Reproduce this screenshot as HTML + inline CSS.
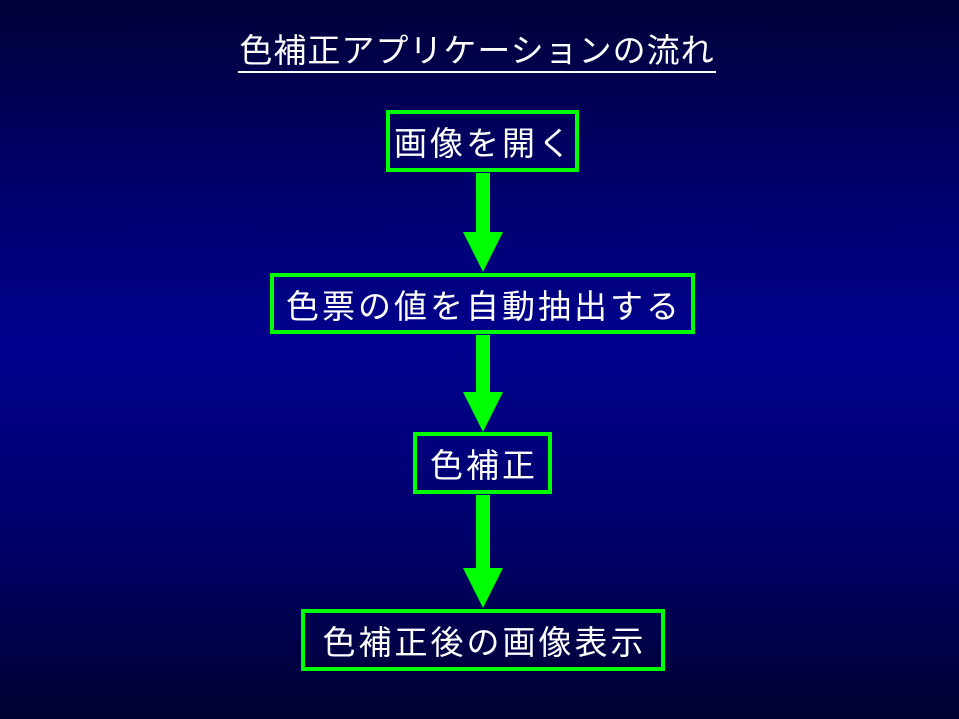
<!DOCTYPE html>
<html><head><meta charset="utf-8"><style>
html,body{margin:0;padding:0}
body{width:959px;height:719px;position:relative;overflow:hidden;
background:linear-gradient(to bottom,#000038 0%,#00006a 25%,#00008e 48%,#00006a 75%,#000030 100%);
font-family:"Liberation Sans","Noto Sans CJK JP",sans-serif;color:#fff}
.t{position:absolute;left:228px;width:498px;top:31px;height:40px;text-align:center;font-size:33px;line-height:40px;letter-spacing:1px;white-space:nowrap}
.u{position:absolute;left:238px;width:478px;top:71px;height:2px;background:#fff}
.b{position:absolute;border:4px solid #00ff00;box-sizing:border-box;display:flex;align-items:center;justify-content:center;font-size:33px;letter-spacing:3px;white-space:nowrap;padding-left:3px}
.s{position:absolute;background:#00ff00;left:476px;width:14px}
.h{position:absolute;left:463px;width:0;height:0;border-left:20px solid transparent;border-right:20px solid transparent;border-top:40px solid #00ff00}
</style></head><body>
<div class="t">色補正アプリケーションの流れ</div>
<div class="u"></div>
<div class="b" style="left:386px;top:110px;width:193px;height:62px">画像を開く</div>
<div class="s" style="top:173px;height:60px"></div><div class="h" style="top:232px"></div>
<div class="b" style="left:270px;top:273px;width:425px;height:61px">色票の値を自動抽出する</div>
<div class="s" style="top:335px;height:58px"></div><div class="h" style="top:392px"></div>
<div class="b" style="left:413px;top:432px;width:139px;height:62px">色補正</div>
<div class="s" style="top:495px;height:74px"></div><div class="h" style="top:568px"></div>
<div class="b" style="left:301px;top:609px;width:364px;height:62px">色補正後の画像表示</div>
</body></html>
